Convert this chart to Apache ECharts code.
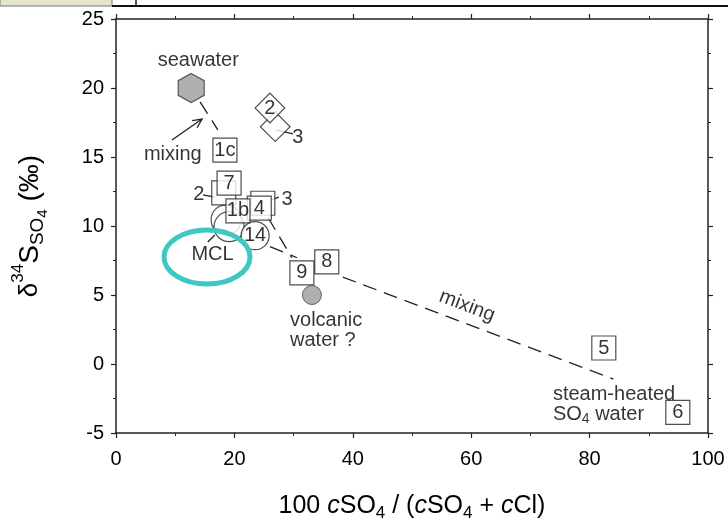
<!DOCTYPE html>
<html><head><meta charset="utf-8">
<script src="https://cdn.jsdelivr.net/npm/echarts@6/dist/echarts.min.js"></script>
<style>html,body{margin:0;padding:0;background:#fff}#c{width:728px;height:529px}</style>
</head><body><div id="c"></div>
<script>
// ---- data ----
const xTicks = [0, 20, 40, 60, 80, 100];
const yTicks = [-5, 0, 5, 10, 15, 20, 25];

const squareLabels = ['2', '7', '1c', '3', '4', '1b', '8', '9', '5', '6'];
const squareX = [18.2, 19.1, 18.4, 24.8, 24.2, 20.6, 35.6, 31.4, 82.4, 94.9];
const squareY = [12.4, 13.1, 15.5, 11.65, 11.3, 11.1, 7.4, 6.6, 1.16, -3.5];

const diamondLabels = ['3', '2'];
const diamondX = [26.9, 26.0];
const diamondY = [17.2, 18.55];

const circleLabels = ['', '', '14'];
const circleX = [18.6, 19.1, 23.5];
const circleY = [10.45, 9.95, 9.3];

const seawaterX = [12.7];
const seawaterY = [20.0];
const volcanicX = [33.1];
const volcanicY = [5.0];

// dashed mixing lines [x1,y1,x2,y2]
const mixLines = [
  [14.2, 19.0, 17.2, 16.96],
  [25.7, 10.6, 29.7, 7.7],
  [26.0, 8.5, 30.6, 7.7],
  [38.3, 6.3, 84.0, -1.09]
];
// leader lines
const leaderLines = [
  [27.0, 16.96, 29.9, 16.67],
  [14.7, 12.25, 16.7, 12.1],
  [25.7, 11.8, 27.5, 12.1],
  [15.5, 8.84, 16.7, 9.35]
];
const arrowLine = [9.46, 16.23, 14.53, 17.75];

// text annotations (centered)
const textLabels = ['seawater', 'mixing', '3', '2', '3', 'MCL'];
const textX = [13.9, 9.6, 30.7, 14.0, 28.9, 16.3];
const textY = [22.0, 15.2, 16.4, 12.3, 11.95, 7.9];
// left aligned annotations
const leftLabels = ['volcanic', 'water ?', 'steam-heated', '{n|SO}{s|4}{n| water}'];
const leftX = [29.4, 29.4, 73.8, 73.8];
const leftY = [3.15, 1.7, -2.2, -3.65];
// rotated label
const rotLabel = ['mixing'];
const rotX = [59.3];
const rotY = [4.2];

// ---- chart ----
const FONT = '"Liberation Sans", Arial, sans-serif';
const TXT = '#000';
const chart = echarts.init(document.getElementById('c'));

const axisLineStyle = { color: '#222', width: 1.5 };
function mkX(pos, showLabel) {
  return {
    type: 'value', position: pos, min: 0, max: 100, interval: 20,
    axisLine: { show: true, onZero: false, lineStyle: axisLineStyle },
    axisTick: { show: true, inside: false, length: 5, lineStyle: { color: '#222', width: 1.2 } },
    minorTick: { show: true, splitNumber: 2, length: 3, lineStyle: { color: '#222', width: 1 } },
    splitLine: { show: false }, minorSplitLine: { show: false },
    axisLabel: { show: showLabel, fontSize: 20, fontFamily: FONT, color: TXT, margin: 16,
      customValues: xTicks },
  };
}
function mkY(pos, showLabel) {
  return {
    type: 'value', position: pos, min: -5, max: 25, interval: 5,
    axisLine: { show: true, onZero: false, lineStyle: axisLineStyle },
    axisTick: { show: true, inside: false, length: 5, lineStyle: { color: '#222', width: 1.2 } },
    minorTick: { show: true, splitNumber: 2, length: 3, lineStyle: { color: '#222', width: 1 } },
    splitLine: { show: false }, minorSplitLine: { show: false },
    axisLabel: { show: showLabel, fontSize: 20, fontFamily: FONT, color: TXT, margin: 12,
      customValues: yTicks },
  };
}

const xMain = mkX('bottom', true);
xMain.name = '{n|100 }{i|c}{n|SO}{s|4}{n| / (}{i|c}{n|SO}{s|4}{n| + }{i|c}{n|Cl)}';
xMain.nameLocation = 'middle';
xMain.nameGap = 57;
xMain.nameTextStyle = {
  fontFamily: FONT, color: TXT,
  rich: {
    n: { fontSize: 25, fontFamily: FONT, color: TXT, lineHeight: 32, verticalAlign: 'middle' },
    i: { fontSize: 25, fontFamily: FONT, color: TXT, fontStyle: 'italic', lineHeight: 32, verticalAlign: 'middle' },
    s: { fontSize: 17, fontFamily: FONT, color: TXT, lineHeight: 32, verticalAlign: 'bottom' }
  }
};
const yMain = mkY('left', true);
yMain.name = '{d|δ}{u|34}{n|S}{s|SO}{ss|4}{n| (‰)}';
yMain.nameLocation = 'middle';
yMain.nameRotate = 90;
yMain.nameGap = 66;
yMain.nameTextStyle = {
  fontFamily: FONT, color: TXT,
  rich: {
    d: { fontSize: 26, fontFamily: FONT, color: TXT, lineHeight: 40, verticalAlign: 'middle' },
    u: { fontSize: 17, fontFamily: FONT, color: TXT, lineHeight: 40, verticalAlign: 'top' },
    n: { fontSize: 28, fontFamily: FONT, color: TXT, lineHeight: 40, verticalAlign: 'middle' },
    s: { fontSize: 19, fontFamily: FONT, color: TXT, lineHeight: 40, verticalAlign: 'bottom', padding: [0, 0, 3, 0] },
    ss: { fontSize: 15, fontFamily: FONT, color: TXT, lineHeight: 40, verticalAlign: 'bottom' }
  }
};

const lineStyleBase = { color: '#222', width: 1.3 };
function segSeries(arr, dashed) {
  return arr.map(s => ({
    type: 'line', data: [[s[0], s[1]], [s[2], s[3]]], symbol: 'none', silent: true,
    lineStyle: Object.assign({}, lineStyleBase, dashed ? { type: [14, 8] } : {}),
    z: 1
  }));
}

const labelStyle = { fontSize: 20, fontFamily: FONT, color: TXT };
const stippleGray = '#9c9c9c';

const series = [
  ...segSeries(mixLines, true),
  ...segSeries(leaderLines, false),
  ...segSeries([arrowLine], false),
  {
    type: 'scatter', z: 3, symbol: 'circle',
    data: circleX.map((x, i) => ({ value: [x, circleY[i]], name: circleLabels[i], symbolSize: i === 2 ? 28 : 30 })),
    itemStyle: { color: '#fff', borderColor: '#222', borderWidth: 1.2 },
    label: Object.assign({ show: true, position: 'inside', formatter: p => p.name }, labelStyle)
  },
  {
    type: 'scatter', z: 4, symbol: 'rect', symbolSize: 21, symbolRotate: 45,
    data: diamondX.map((x, i) => ({ value: [x, diamondY[i]], name: diamondLabels[i] })),
    itemStyle: { color: '#fff', borderColor: '#222', borderWidth: 1.2 },
    label: Object.assign({ show: true, position: 'inside', rotate: 0, formatter: p => p.name === '3' ? '' : p.name }, labelStyle)
  },
  {
    type: 'scatter', z: 5, symbol: 'rect', symbolSize: 24,
    data: squareX.map((x, i) => ({ value: [x, squareY[i]], name: squareLabels[i] })),
    itemStyle: { color: '#fff', borderColor: '#222', borderWidth: 1.2 },
    label: Object.assign({ show: true, position: 'inside', formatter: p => (p.name === '2' || p.name === '3') ? '' : p.name }, labelStyle)
  },
  {
    type: 'scatter', z: 5, symbol: 'circle', symbolSize: 19,
    data: volcanicX.map((x, i) => [x, volcanicY[i]]),
    itemStyle: { color: stippleGray, borderColor: '#444', borderWidth: 1 }
  },
  {
    type: 'scatter', z: 5, symbol: 'path://M50,0 L93.3,25 L93.3,75 L50,100 L6.7,75 L6.7,25 Z', symbolSize: [26, 29],
    data: seawaterX.map((x, i) => [x, seawaterY[i]]),
    itemStyle: { color: stippleGray, borderColor: '#333', borderWidth: 1.2 }
  },
  {
    type: 'scatter', z: 6, symbolSize: 1, itemStyle: { color: 'rgba(0,0,0,0)' }, silent: true,
    data: textX.map((x, i) => ({ value: [x, textY[i]], name: textLabels[i] })),
    label: Object.assign({ show: true, position: 'inside', formatter: p => p.name }, labelStyle)
  },
  {
    type: 'scatter', z: 6, symbolSize: 1, itemStyle: { color: 'rgba(0,0,0,0)' }, silent: true,
    data: leftX.map((x, i) => ({ value: [x, leftY[i]], name: leftLabels[i] })),
    label: Object.assign({ show: true, position: 'inside', align: 'left', formatter: p => p.name,
      rich: {
        n: Object.assign({ lineHeight: 24 }, labelStyle),
        s: { fontSize: 14, fontFamily: FONT, color: TXT, lineHeight: 24, verticalAlign: 'bottom' }
      } }, labelStyle)
  },
  {
    type: 'scatter', z: 6, symbolSize: 1, itemStyle: { color: 'rgba(0,0,0,0)' }, silent: true,
    data: rotX.map((x, i) => ({ value: [x, rotY[i]], name: rotLabel[i] })),
    label: Object.assign({ show: true, position: 'inside', rotate: -21, formatter: p => p.name }, labelStyle)
  }
];

chart.setOption({
  animation: false,
  backgroundColor: '#fff',
  grid: { left: 116, right: 20, top: 19, bottom: 96, containLabel: false, outerBoundsMode: 'none' },
  xAxis: [xMain, mkX('top', false)],
  yAxis: [yMain, mkY('right', false)],
  series: series
});

// arrowhead for "mixing" arrow, placed via the axis scale
const p1 = chart.convertToPixel({ gridIndex: 0 }, [arrowLine[0], arrowLine[1]]);
const p2 = chart.convertToPixel({ gridIndex: 0 }, [arrowLine[2], arrowLine[3]]);
const ang = Math.atan2(p2[1] - p1[1], p2[0] - p1[0]);
const L = 10, w = 0.45;
const a1 = [p2[0] - L * Math.cos(ang - w), p2[1] - L * Math.sin(ang - w)];
const a2 = [p2[0] - L * Math.cos(ang + w), p2[1] - L * Math.sin(ang + w)];

chart.setOption({
  graphic: [
    { id: 'hdr', type: 'rect', shape: { x: 0, y: -1, width: 112, height: 7 }, style: { fill: '#e8e5cf', stroke: '#777', lineWidth: 1 }, z: 10 },
    { id: 'vl', type: 'line', shape: { x1: 136, y1: 0, x2: 136, y2: 6 }, style: { stroke: '#222', lineWidth: 1.5 }, z: 10 },
    { id: 'hl', type: 'line', shape: { x1: 112, y1: 6, x2: 728, y2: 6 }, style: { stroke: '#111', lineWidth: 2 }, z: 10 },
    { id: 'ell', type: 'ellipse', shape: { cx: 207, cy: 257, rx: 43, ry: 27 }, style: { fill: 'none', stroke: '#3ec7c5', lineWidth: 5 }, z: 10 },
    { id: 'arr', type: 'polyline', shape: { points: [a1, p2, a2] }, style: { stroke: '#222', lineWidth: 1.3, fill: 'none' }, z: 10 }
  ]
});
</script></body></html>
